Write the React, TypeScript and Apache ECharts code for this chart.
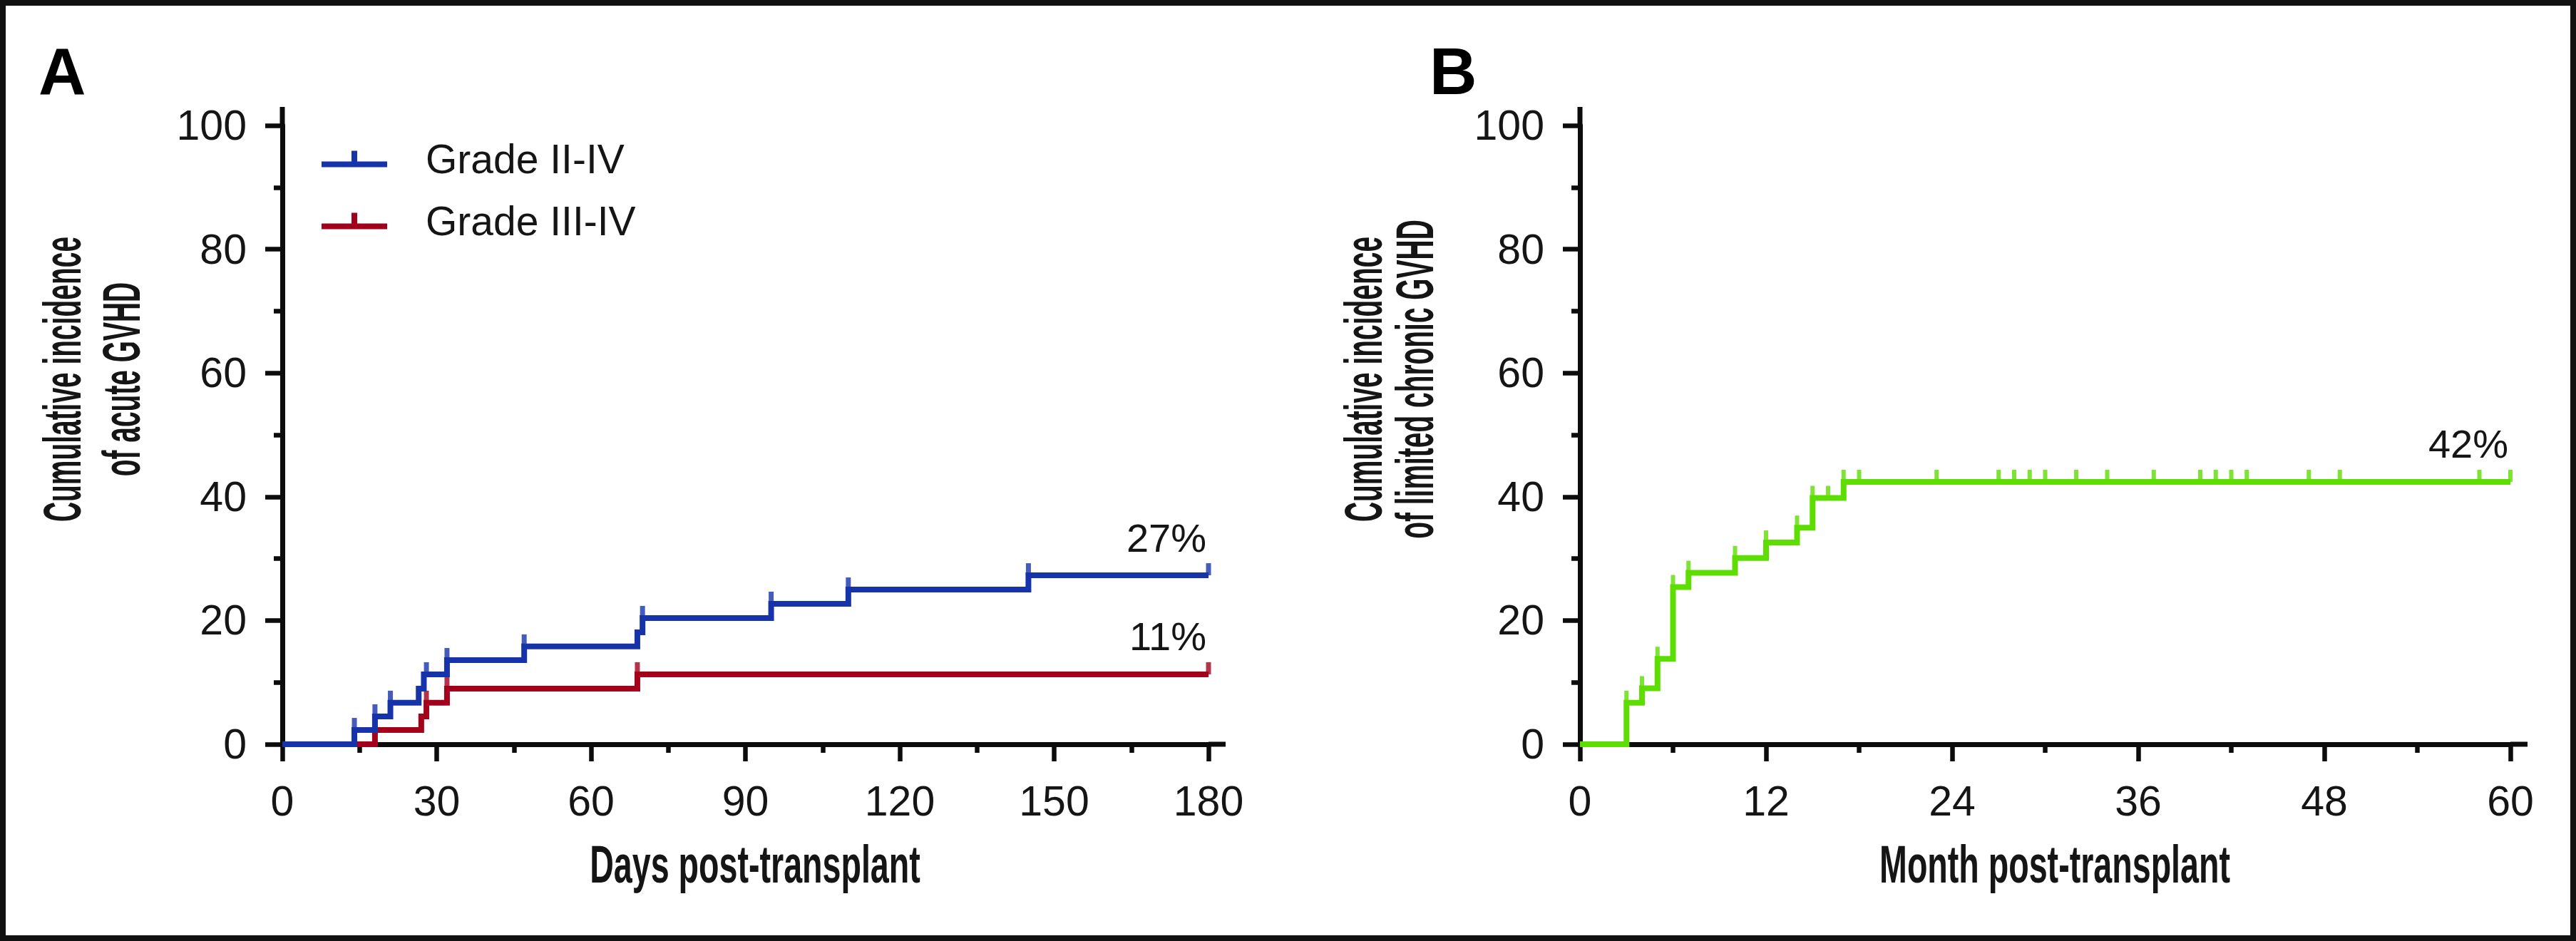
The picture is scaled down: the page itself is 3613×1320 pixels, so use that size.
import React, { useEffect, useRef } from 'react';
import * as echarts from 'echarts';

// ---- Data ----
const gradeIIIVDays = [0, 14, 18, 21, 26.5, 27.5, 32, 47, 69, 70, 95, 110, 145, 180];
const gradeIIIVValues = [0, 2.3, 4.5, 6.7, 9.0, 11.3, 13.6, 15.8, 18.1, 20.4, 22.7, 25.0, 27.3, 27.3];
const gradeIIIVCensored = [14, 18, 21, 28, 32, 47, 70, 95, 110, 145, 180];

const gradeIIIIVDays = [0, 18, 27, 28, 32, 69, 180];
const gradeIIIIVValues = [0, 2.3, 4.5, 6.7, 9.0, 11.3, 11.3];
const gradeIIIIVCensored = [18, 28, 32, 69, 180];

const chronicMonths = [0, 3, 4, 5, 6, 7, 10, 12, 14, 15, 17, 60];
const chronicValues = [0, 6.7, 9.05, 13.8, 25.4, 27.7, 30.1, 32.6, 35.0, 39.8, 42.4, 42.4];
const chronicCensored = [3, 4, 5, 6, 7, 10, 12, 14, 15, 16, 17, 18, 23, 27, 28, 29, 30, 32, 34, 37, 40, 41, 42, 43, 47, 49, 58, 60];

const seriesNames = ['Grade II-IV', 'Grade III-IV'];
const endLabelsA = ['27%', '11%'];
const endLabelB = '42%';
const xTitleA = 'Days post-transplant';
const xTitleB = 'Month post-transplant';
const yTitleA = ['Cumulative incidence', 'of acute GVHD'];
const yTitleB = ['Cumulative incidence', 'of limited chronic GVHD'];

const BLUE = '#1733a9';
const RED = '#a3001b';
const GREEN = '#5ddd00';
const AX = '#0c0c0c';
const TXT = '#151515';
const FONT = '"Liberation Sans", Arial, Helvetica, sans-serif';

function pairs(xs: number[], ys: number[]) {
  return xs.map((x, i) => [x, ys[i]]);
}
function valueAt(xs: number[], ys: number[], t: number) {
  let v = ys[0];
  for (let i = 0; i < xs.length; i++) if (xs[i] <= t) v = ys[i];
  return v;
}
function measure(text: string, font: string) {
  const c = document.createElement('canvas').getContext('2d')!;
  c.font = font;
  return c.measureText(text).width;
}

function xAxisDef(gridIndex: number, max: number, interval: number) {
  return {
    gridIndex,
    type: 'value',
    min: 0,
    max,
    interval,
    axisLine: { show: true, onZero: false, lineStyle: { color: AX, width: 7 } },
    axisTick: { show: true, length: 24, lineStyle: { color: AX, width: 6.5 } },
    minorTick: { show: true, splitNumber: 2, length: 12, lineStyle: { color: AX, width: 6.5 } },
    splitLine: { show: false },
    minorSplitLine: { show: false },
    axisLabel: { margin: 50, fontSize: 59, color: TXT, fontFamily: FONT },
  };
}
function yAxisDef(gridIndex: number) {
  return {
    gridIndex,
    type: 'value',
    min: 0,
    max: 100,
    interval: 20,
    axisLine: { show: true, onZero: false, lineStyle: { color: AX, width: 7 } },
    axisTick: { show: true, length: 24, lineStyle: { color: AX, width: 6.5 } },
    minorTick: { show: true, splitNumber: 2, length: 12, lineStyle: { color: AX, width: 6.5 } },
    splitLine: { show: false },
    minorSplitLine: { show: false },
    axisLabel: { margin: 50, fontSize: 59, color: TXT, fontFamily: FONT },
  };
}

function stepSeries(name: string, xs: number[], ys: number[], color: string, gi: number, z: number) {
  return {
    name,
    type: 'line',
    xAxisIndex: gi,
    yAxisIndex: gi,
    step: 'end',
    data: pairs(xs, ys),
    showSymbol: false,
    symbol: 'none',
    lineStyle: { color, width: 8, cap: 'butt', join: 'miter' },
    itemStyle: { color },
    z,
  };
}
function censorSeries(name: string, cens: number[], xs: number[], ys: number[], color: string, gi: number, z: number, w: number) {
  return {
    name,
    type: 'scatter',
    xAxisIndex: gi,
    yAxisIndex: gi,
    data: cens.map((t) => [t, valueAt(xs, ys, t)]),
    symbol: 'rect',
    symbolSize: [w, 17],
    symbolOffset: [0, -8.5],
    itemStyle: { color },
    z,
    silent: true,
  };
}

export default function App() {
  const ref = useRef<HTMLDivElement>(null);
  useEffect(() => {
    document.body.style.margin = '0';
    const chart = echarts.init(ref.current!, null, { renderer: 'svg' });
    chart.setOption({
      animation: false,
      backgroundColor: '#ffffff',
      grid: [
        { left: 396, top: 176, width: 1299, height: 868 },
        { left: 2216, top: 176, width: 1305, height: 868 },
      ],
      xAxis: [xAxisDef(0, 180, 30), xAxisDef(1, 60, 12)],
      yAxis: [yAxisDef(0), yAxisDef(1)],
      legend: {
        data: seriesNames,
        orient: 'vertical',
        left: 446,
        top: 180,
        itemWidth: 92,
        itemHeight: 23,
        itemGap: 11,
        icon: 'path://M0,15h92v8h-92z M42,0h8v15h-8z',
        itemStyle: { borderWidth: 0 },
        selectedMode: false,
        textStyle: { fontSize: 57, fontFamily: FONT, color: TXT, lineHeight: 60, padding: [16, 0, 0, 49] },
      },
      series: [
        stepSeries(seriesNames[1], gradeIIIIVDays, gradeIIIIVValues, RED, 0, 2),
        censorSeries('III-IV censored', gradeIIIIVCensored, gradeIIIIVDays, gradeIIIIVValues, RED, 0, 2, 7),
        stepSeries(seriesNames[0], gradeIIIVDays, gradeIIIVValues, BLUE, 0, 3),
        censorSeries('II-IV censored', gradeIIIVCensored, gradeIIIVDays, gradeIIIVValues, BLUE, 0, 3, 7),
        stepSeries('Limited chronic GVHD', chronicMonths, chronicValues, GREEN, 1, 2),
        censorSeries('chronic censored', chronicCensored, chronicMonths, chronicValues, GREEN, 1, 2, 6),
      ],
    });

    const px = (gi: number, x: number, y: number) =>
      chart.convertToPixel({ gridIndex: gi } as any, [x, y]) as number[];

    const titleFont = `bold 74px "Liberation Sans"`;
    const sx = 464 / measure(xTitleA, titleFont);
    const sy = 400 / measure(yTitleA[0], titleFont);

    const g: any[] = [];
    g.push({
      type: 'rect',
      shape: { x: 4, y: 4, width: 3605, height: 1312 },
      style: { fill: 'none', stroke: '#111', lineWidth: 8 },
      silent: true,
    });
    // axis extensions
    [[0, 180], [1, 60]].forEach(([gi, xmax]) => {
      const o = px(gi, 0, 0);
      const e = px(gi, xmax, 100);
      g.push({ type: 'line', shape: { x1: e[0], y1: o[1], x2: e[0] + 24, y2: o[1] }, style: { stroke: AX, lineWidth: 7 }, silent: true });
      g.push({ type: 'line', shape: { x1: o[0], y1: e[1], x2: o[0], y2: e[1] - 26 }, style: { stroke: AX, lineWidth: 7 }, silent: true });
    });
    // panel letters
    g.push({ type: 'text', x: 54, y: 100, style: { text: 'A', font: `bold 92px ${FONT}`, fill: '#000', verticalAlign: 'middle', align: 'left' } });
    g.push({ type: 'text', x: 2005, y: 100, style: { text: 'B', font: `bold 92px ${FONT}`, fill: '#000', verticalAlign: 'middle', align: 'left' } });
    // x titles
    const xt = (text: string, x: number) => ({
      type: 'text', x, y: 1212, scaleX: sx, scaleY: 1,
      style: { text, font: titleFont, fill: TXT, align: 'center', verticalAlign: 'middle' },
    });
    g.push(xt(xTitleA, 1059));
    g.push(xt(xTitleB, 2882));
    // y titles
    const yt = (text: string, x: number) => ({
      type: 'text', x, y: 532, rotation: Math.PI / 2, scaleX: sy, scaleY: 1,
      style: { text, font: titleFont, fill: TXT, align: 'center', verticalAlign: 'middle' },
    });
    g.push(yt(yTitleA[0], 87));
    g.push(yt(yTitleA[1], 170));
    g.push(yt(yTitleB[0], 1912));
    g.push(yt(yTitleB[1], 1984));
    // end labels
    const endLbl = (gi: number, xs: number[], ys: number[], text: string) => {
      const p = px(gi, xs[xs.length - 1], ys[ys.length - 1]);
      return {
        type: 'text', x: p[0] - 3, y: p[1] - 53,
        style: { text, font: `56px ${FONT}`, fill: TXT, align: 'right', verticalAlign: 'middle' },
      };
    };
    g.push(endLbl(0, gradeIIIVDays, gradeIIIVValues, endLabelsA[0]));
    g.push(endLbl(0, gradeIIIIVDays, gradeIIIIVValues, endLabelsA[1]));
    g.push(endLbl(1, chronicMonths, chronicValues, endLabelB));

    chart.setOption({ graphic: g });
    return () => chart.dispose();
  }, []);
  return <div ref={ref} style={{ position: 'fixed', left: 0, top: 0, width: 3613, height: 1320 }} />;
}
